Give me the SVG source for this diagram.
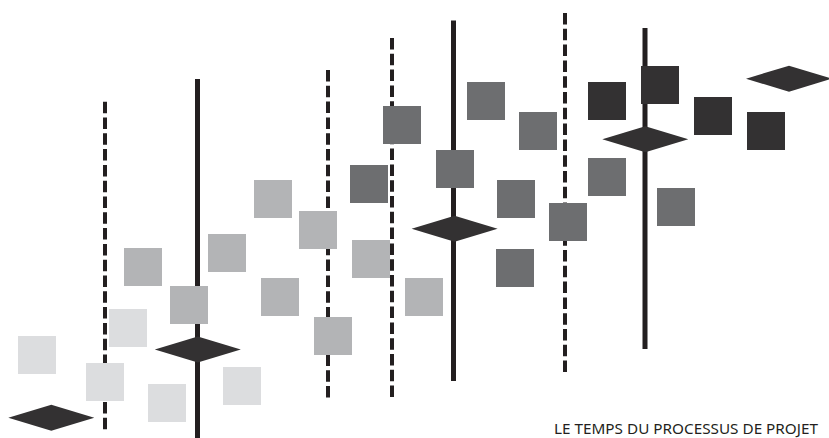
<svg xmlns="http://www.w3.org/2000/svg" width="829" height="438" viewBox="0 0 829 438">
  <style>
    .solid { stroke: #231f20; stroke-width: 5; fill: none; }
    .dash { stroke: #231f20; stroke-width: 4; fill: none; stroke-dasharray: 11.5 4.3; }
    .l1 { fill: #dcdddf; }
    .l2 { fill: #b3b4b6; }
    .l3 { fill: #6d6e70; }
    .l4 { fill: #333132; }
    .dia { fill: #333132; }
    .lbl { font-family: "Noto Sans", "Liberation Sans", Arial, sans-serif; font-size: 14px; fill: #231f20; }
  </style>
  <defs>
    <rect id="sq" width="38" height="38"/>
    <polygon id="dm" points="-43,0 0,-13 43,0 0,13"/>
  </defs>
  <rect width="829" height="438" fill="#ffffff"/>
  <g id="connectors">
    <line class="dash" x1="105" y1="101.7" x2="105" y2="430"/>
    <line class="solid" x1="197.5" y1="79" x2="197.5" y2="438"/>
    <line class="dash" x1="328" y1="70" x2="328" y2="399"/>
    <line class="dash" x1="392" y1="38" x2="392" y2="398"/>
    <line class="solid" x1="453.5" y1="20.5" x2="453.5" y2="381"/>
    <line class="dash" x1="565" y1="13" x2="565" y2="372"/>
    <line class="solid" x1="645" y1="28" x2="645" y2="349"/>
  </g>
  <g id="squares-light">
    <use id="s1" href="#sq" class="l1" x="18" y="336"/>
    <use id="s2" href="#sq" class="l1" x="86" y="363"/>
    <use id="s3" href="#sq" class="l1" x="109" y="309"/>
    <use id="s4" href="#sq" class="l1" x="148" y="384"/>
    <use id="s5" href="#sq" class="l1" x="223" y="367"/>
  </g>
  <g id="squares-medium">
    <use id="s6" href="#sq" class="l2" x="124" y="248"/>
    <use id="s7" href="#sq" class="l2" x="170" y="286"/>
    <use id="s8" href="#sq" class="l2" x="208" y="234"/>
    <use id="s9" href="#sq" class="l2" x="254" y="180"/>
    <use id="s10" href="#sq" class="l2" x="261" y="278"/>
    <use id="s11" href="#sq" class="l2" x="299" y="211"/>
    <use id="s12" href="#sq" class="l2" x="314" y="317"/>
    <use id="s13" href="#sq" class="l2" x="352" y="240"/>
    <use id="s14" href="#sq" class="l2" x="405" y="278"/>
  </g>
  <g id="squares-dark">
    <use id="s15" href="#sq" class="l3" x="350" y="165"/>
    <use id="s16" href="#sq" class="l3" x="383" y="106"/>
    <use id="s17" href="#sq" class="l3" x="436" y="150"/>
    <use id="s18" href="#sq" class="l3" x="467" y="82"/>
    <use id="s19" href="#sq" class="l3" x="519" y="112"/>
    <use id="s20" href="#sq" class="l3" x="497" y="180"/>
    <use id="s21" href="#sq" class="l3" x="496" y="249"/>
    <use id="s22" href="#sq" class="l3" x="549" y="203"/>
    <use id="s23" href="#sq" class="l3" x="588" y="158"/>
    <use id="s24" href="#sq" class="l3" x="657" y="188"/>
  </g>
  <g id="squares-darkest">
    <use id="s25" href="#sq" class="l4" x="588" y="82"/>
    <use id="s26" href="#sq" class="l4" x="641" y="66"/>
    <use id="s27" href="#sq" class="l4" x="694" y="97"/>
    <use id="s28" href="#sq" class="l4" x="747" y="112"/>
  </g>
  <g id="diamonds">
    <use id="d1" href="#dm" class="dia" x="51.3" y="417.7"/>
    <use id="d2" href="#dm" class="dia" x="197.8" y="349.5"/>
    <use id="d3" href="#dm" class="dia" x="454.6" y="228.8"/>
    <use id="d4" href="#dm" class="dia" x="645.3" y="139.3"/>
    <use id="d5" href="#dm" class="dia" x="789" y="78.7"/>
  </g>
  <g id="label">
    <text class="lbl" x="554" y="434" textLength="264" lengthAdjust="spacingAndGlyphs">LE TEMPS DU PROCESSUS DE PROJET</text>
  </g>
</svg>
